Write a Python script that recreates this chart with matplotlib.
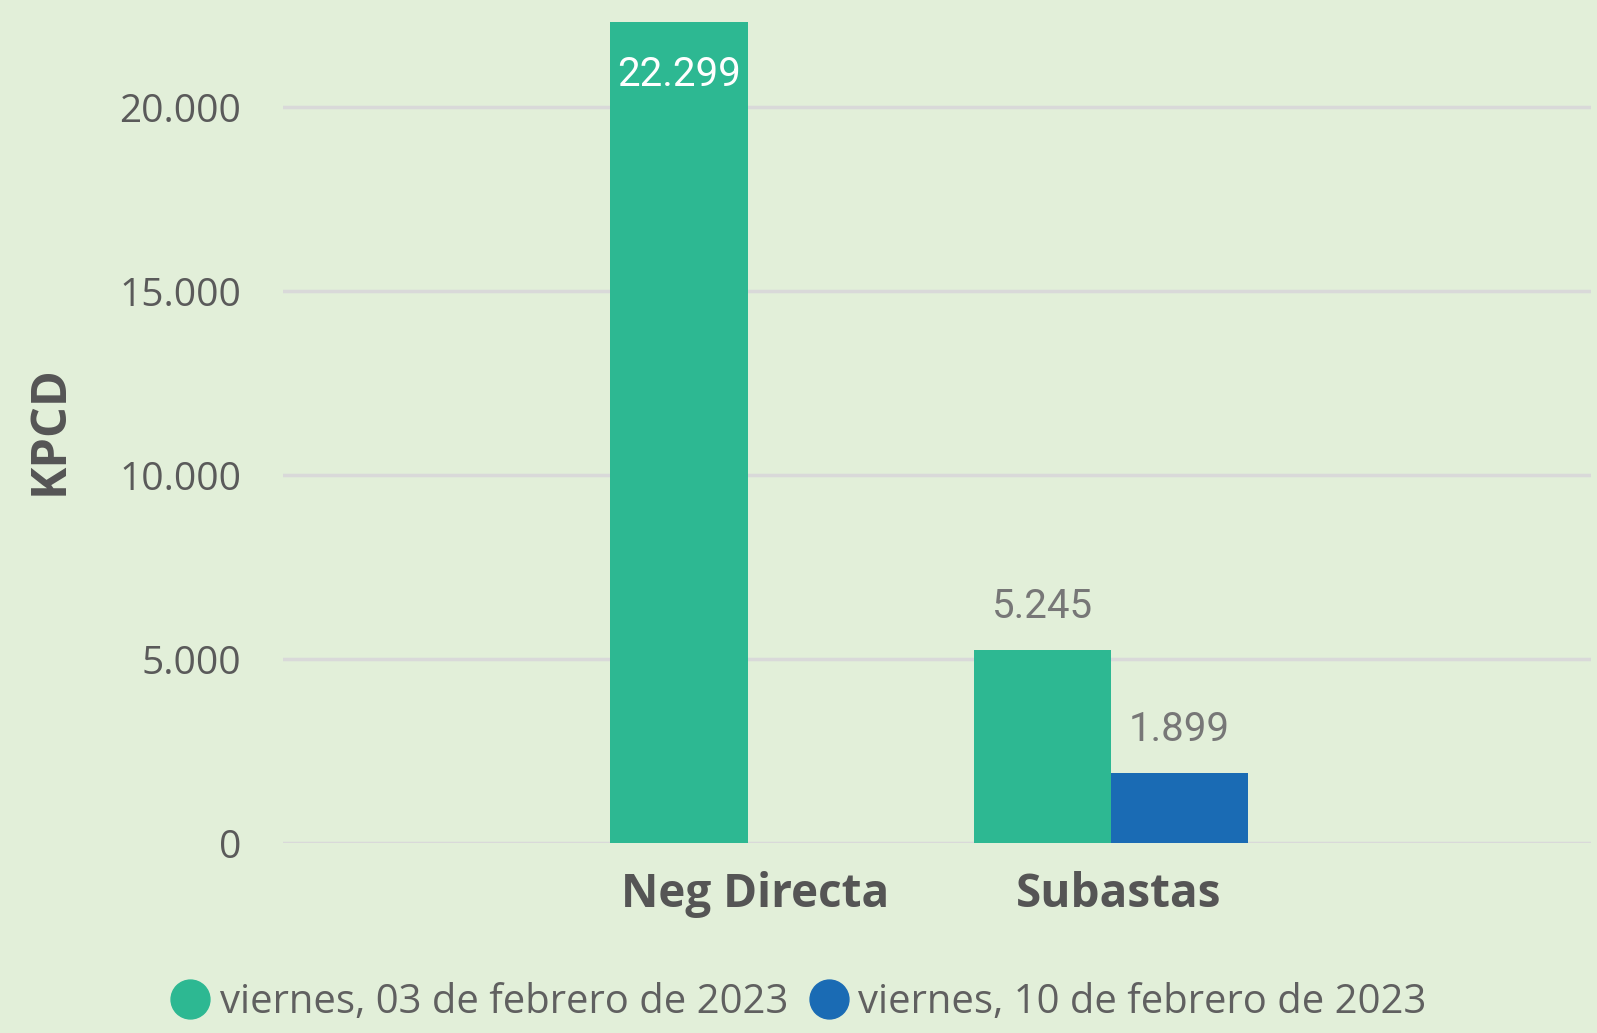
import matplotlib
matplotlib.use("Agg")
import matplotlib.pyplot as plt
from matplotlib.lines import Line2D
import numpy as np

categories = ["Neg Directa", "Subastas"]
series_names = ["viernes, 03 de febrero de 2023", "viernes, 10 de febrero de 2023"]
values_0203 = [22299, 5245]
values_1002 = [None, 1899]
yticks = [0, 5000, 10000, 15000, 20000]
ytick_labels = ["0", "5.000", "10.000", "15.000", "20.000"]

BG = "#E2EFD9"
GREEN = "#2DB892"
BLUE = "#1A6BB4"
GRID = "#D9D9D9"

def fmt(v):
    return f"{v:,.0f}".replace(",", ".")

fig = plt.figure(figsize=(15.97, 10.33), dpi=100, facecolor=BG)
ax = fig.add_axes([0.1772, 0.1839, 0.8190, 0.8158])
ax.set_facecolor(BG)

x = np.arange(len(categories))
w = 0.378
shift = -0.021
for i, (v0, v1) in enumerate(zip(values_0203, values_1002)):
    if v0 is not None:
        ax.bar(x[i] - w / 2 + shift, v0, width=w, color=GREEN, zorder=3)
    if v1 is not None:
        ax.bar(x[i] + w / 2 + shift, v1, width=w, color=BLUE, zorder=3)

# data labels
for i, (v0, v1) in enumerate(zip(values_0203, values_1002)):
    for v, off in ((v0, -w / 2), (v1, w / 2)):
        if v is None:
            continue
        if v > 20000:
            ax.annotate(fmt(v), (x[i] + off + shift, v), xytext=(0, -46), textcoords="offset points",
                        ha="center", va="baseline", fontsize=29, color="white",
                        family="Roboto", zorder=4)
        else:
            ax.annotate(fmt(v), (x[i] + off + shift, v), xytext=(0, 23), textcoords="offset points",
                        ha="center", va="baseline", fontsize=29, color="#777777",
                        family="Roboto", zorder=4)

ax.set_xlim(-1.3, 2.3)
ax.set_ylim(0, 22900)
ax.set_yticks(yticks)
ax.set_yticklabels(ytick_labels, fontsize=28, color="#5A5A5A", family="Open Sans")
ax.set_xticks(x)
ax.set_xticklabels(categories, fontsize=33, color="#555555", family="Open Sans", fontweight="bold")
ax.tick_params(axis="y", length=0, pad=30)
ax.tick_params(axis="x", length=0, pad=20)
ax.yaxis.grid(True, color=GRID, linewidth=2.5, zorder=0)
ax.set_axisbelow(True)
for s in ax.spines.values():
    s.set_visible(False)

ax.set_ylabel("KPCD", fontsize=35, fontweight="bold", color="#555555", family="Open Sans")
ax.yaxis.set_label_coords(-0.159, 0.49)

handles = [Line2D([], [], marker="o", linestyle="none", markersize=28, color=c)
           for c in (GREEN, BLUE)]
fig.legend(handles, series_names, loc="center", bbox_to_anchor=(0.5, 0.029), ncol=2,
           frameon=False, prop={"family": "Open Sans", "size": 28.8}, labelcolor="#606060",
           handletextpad=0.25, columnspacing=0.5, handlelength=1.0)

fig.savefig("out.png", dpi=100, facecolor=BG)
